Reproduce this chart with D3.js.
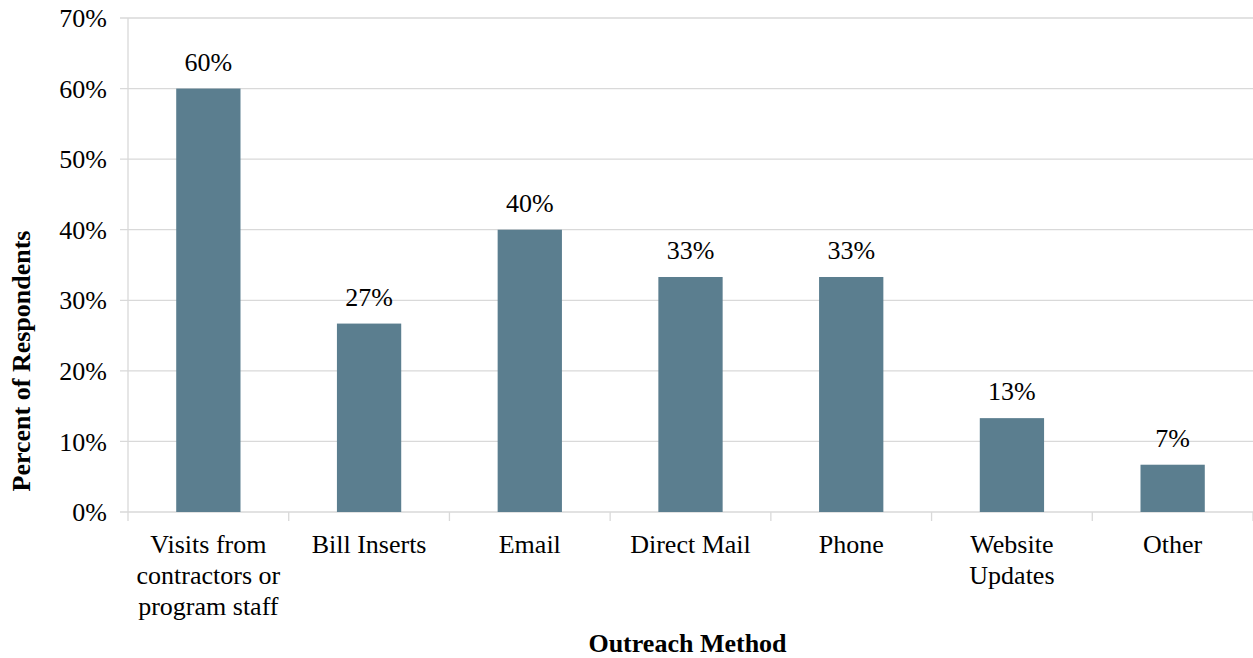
<!DOCTYPE html>
<html>
<head>
<meta charset="utf-8">
<script src="https://cdn.jsdelivr.net/npm/d3@7"></script>
<style>
  body { margin: 0; background: #fff; }
</style>
</head>
<body>
<div id="canvas"></div>
<script>
const categories = [
  ["Visits from", "contractors or", "program staff"],
  ["Bill Inserts"],
  ["Email"],
  ["Direct Mail"],
  ["Phone"],
  ["Website", "Updates"],
  ["Other"]
];
const values = [60, 26.7, 40, 33.3, 33.3, 13.3, 6.7];
const yTicks = [0, 10, 20, 30, 40, 50, 60, 70];

const width = 1253, height = 658;
const margin = { top: 18, left: 128, bottom: 146, right: 0 };
const iwidth = width - margin.left - margin.right;
const iheight = height - margin.top - margin.bottom;
const serif = "'Liberation Serif', 'Times New Roman', 'DejaVu Serif', serif";

const svg = d3.select("#canvas").append("svg")
  .attr("width", width)
  .attr("height", height)
  .attr("font-family", serif)
  .style("font-family", serif);

const g = svg.append("g").attr("transform", `translate(${margin.left},${margin.top})`);

const y = d3.scaleLinear().domain([0, 70]).range([iheight, 0]);
const x = d3.scaleBand().domain(d3.range(categories.length)).range([0, iwidth]).padding(0);
const barW = x.bandwidth() * 0.4;

// gridlines
g.selectAll("line.grid").data(yTicks).enter().append("line")
  .attr("class", "grid")
  .attr("x1", -8).attr("x2", iwidth)
  .attr("y1", d => y(d)).attr("y2", d => y(d))
  .attr("stroke", "#d9d9d9").attr("stroke-width", 1.3);

// y axis line
g.append("line")
  .attr("x1", 0).attr("x2", 0).attr("y1", 0).attr("y2", iheight)
  .attr("stroke", "#d9d9d9").attr("stroke-width", 1.3);

// y tick labels
g.selectAll("text.ytick").data(yTicks).enter().append("text")
  .attr("class", "ytick")
  .attr("x", -21).attr("y", d => y(d))
  .attr("dy", "0.35em")
  .attr("text-anchor", "end")
  .attr("font-family", serif)
  .style("font-size", "26px")
  .text(d => d + "%");

// x ticks at band boundaries
g.selectAll("line.xtick").data(d3.range(categories.length + 1)).enter().append("line")
  .attr("class", "xtick")
  .attr("x1", d => d * x.step()).attr("x2", d => d * x.step())
  .attr("y1", iheight).attr("y2", iheight + 9)
  .attr("stroke", "#d9d9d9").attr("stroke-width", 1.3);

// bars
g.selectAll("rect.bar").data(values).enter().append("rect")
  .attr("class", "bar")
  .attr("x", (d, i) => x(i) + (x.bandwidth() - barW) / 2)
  .attr("y", d => y(d))
  .attr("width", barW)
  .attr("height", d => iheight - y(d))
  .attr("fill", "#5b7e8f");

// data labels
g.selectAll("text.lbl").data(values).enter().append("text")
  .attr("class", "lbl")
  .attr("x", (d, i) => x(i) + x.bandwidth() / 2)
  .attr("y", d => y(d) - 18)
  .attr("text-anchor", "middle")
  .attr("font-family", serif)
  .style("font-size", "26px")
  .text(d => Math.round(d) + "%");

// category labels
const cat = g.selectAll("text.cat").data(categories).enter().append("text")
  .attr("class", "cat")
  .attr("text-anchor", "middle")
  .attr("font-family", serif)
  .style("font-size", "26px");
cat.selectAll("tspan").data((d, i) => d.map(t => ({ t, i }))).enter().append("tspan")
  .attr("x", d => x(d.i) + x.bandwidth() / 2)
  .attr("y", (d, j) => iheight + 41 + j * 31)
  .text(d => d.t);

// axis titles
svg.append("text")
  .attr("x", margin.left + iwidth / 2 - 3)
  .attr("y", 652)
  .attr("text-anchor", "middle")
  .attr("font-family", serif)
  .style("font-size", "26px")
  .style("font-weight", "bold")
  .text("Outreach Method");

svg.append("text")
  .attr("transform", `translate(30, 361) rotate(-90)`)
  .attr("text-anchor", "middle")
  .attr("font-family", serif)
  .style("font-size", "26px")
  .style("font-weight", "bold")
  .text("Percent of Respondents");
</script>
</body>
</html>
